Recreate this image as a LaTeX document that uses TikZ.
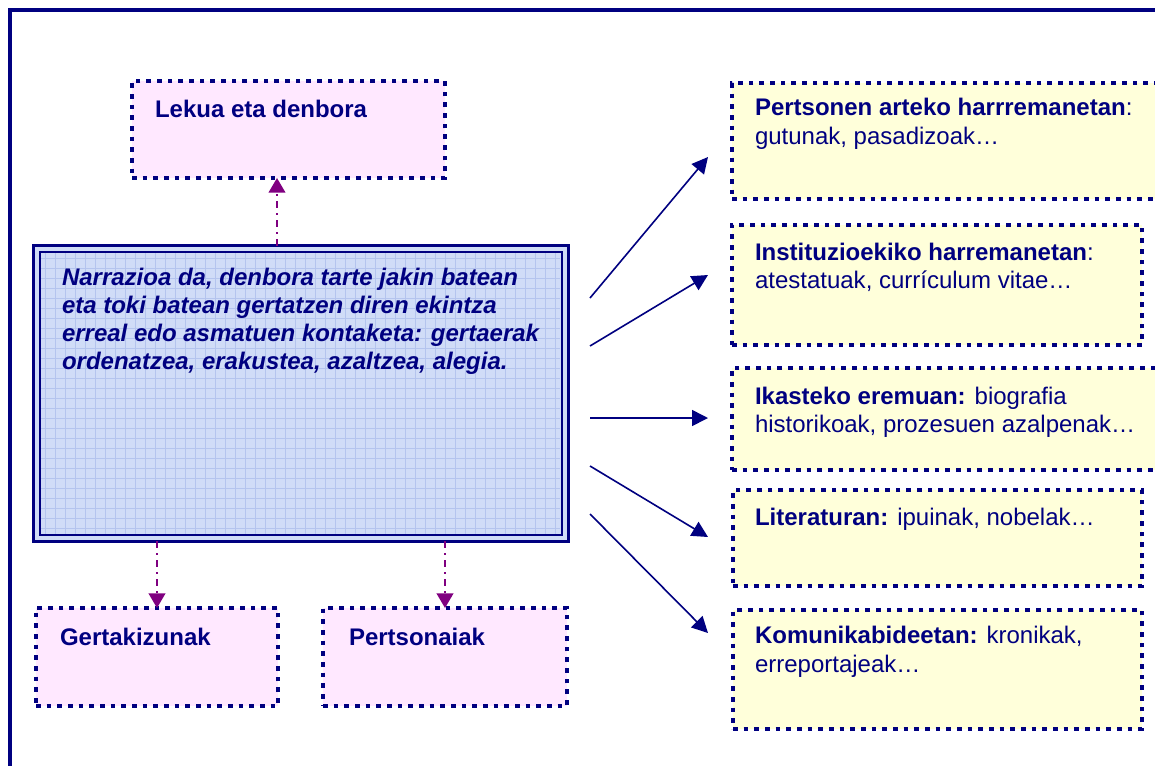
\documentclass[tikz,border=0pt]{standalone}
\usepackage{fontspec}
\setmainfont{Liberation Sans}
\usetikzlibrary{arrows.meta,calc}
\definecolor{navy}{RGB}{0,0,128}
\definecolor{purp}{RGB}{128,0,128}
\definecolor{pinkfill}{RGB}{255,232,255}
\definecolor{yelfill}{RGB}{255,255,218}
\definecolor{bluefill}{RGB}{208,220,247}
\definecolor{gridc}{RGB}{180,196,238}
\begin{document}
\begin{tikzpicture}[x=0.75pt,y=-0.75pt,
  every node/.style={outer sep=0pt, text=navy, font=\fontsize{18}{21.5}\selectfont},
  dotbox/.style={rectangle, draw=navy, line width=3.4pt, dash pattern=on 3.4pt off 4.6pt, anchor=north west, inner sep=0pt},
  pinkbox/.style={dotbox, fill=pinkfill},
  yelbox/.style={dotbox, fill=yelfill},
  txt/.style={anchor=base west, inner sep=0pt},
  mtxt/.style={txt, font=\fontsize{18}{21.5}\selectfont\bfseries\itshape},
  rarrow/.style={draw=navy, line width=1.2pt, -{Triangle[length=12pt,width=12pt]}},
  parrow/.style={draw=purp, line width=1.5pt, dash pattern=on 5.25pt off 3.75pt on 1.5pt off 3.75pt, -{Triangle[length=11pt,width=12.5pt]}},
]
\useasboundingbox (0,0) rectangle (1155,765);
\clip (0,0) rectangle (1155,765);
\fill[white] (0,0) rectangle (1155,765);
% outer frame
\draw[navy, line width=3pt] (10,10) rectangle (1200,800);

% main box
\node[rectangle, fill=bluefill, draw=navy, line width=2.25pt, anchor=north west, inner sep=0pt,
  minimum width=400.875pt, minimum height=221.625pt] (main) at (33.5,245.5) {};
\foreach \gx in {45,55,...,555} \draw[gridc, line width=0.35pt] (\gx,252) -- (\gx,534);
\foreach \gy in {258,268,...,528} \draw[gridc, line width=0.35pt] (40,\gy) -- (560,\gy);
\draw[navy, line width=1.5pt] ($(main.north west)+(6.5,6.5)$) rectangle ($(main.south east)+(-6.5,-6.5)$);
\node[mtxt] (m1) at (62,285) {Narrazioa da, denbora tarte jakin batean};
\node[mtxt] (m2) at (62,313) {eta toki batean gertatzen diren ekintza};
\node[mtxt] (m3) at (62,341) {erreal edo asmatuen kontaketa: gertaerak};
\node[mtxt] (m4) at (62,369) {ordenatzea, erakustea, azaltzea, alegia.};

% pink boxes
\node[pinkbox, minimum width=234.75pt, minimum height=72.75pt] (lek) at (132,81) {};
\node[txt] (lekt) at (155,117) {\bfseries Lekua eta denbora};
\node[pinkbox, minimum width=181.5pt, minimum height=73.5pt] (g) at (36,608) {};
\node[txt] (gt) at (60,645) {\bfseries Gertakizunak};
\node[pinkbox, minimum width=183pt, minimum height=73.5pt] (p) at (323,608) {};
\node[txt] (pt) at (349,645) {\bfseries Pertsonaiak};

% yellow boxes
\node[yelbox, minimum width=328.5pt, minimum height=87pt] (b1) at (732,83) {};
\node[txt] (b1a) at (755,115) {\textbf{Pertsonen arteko harrremanetan}:};
\node[txt] (b1b) at (755,144) {gutunak, pasadizoak…};
\node[yelbox, minimum width=307.5pt, minimum height=90pt] (b2) at (732,225) {};
\node[txt] (b2a) at (755,260) {\textbf{Instituzioekiko harremanetan}:};
\node[txt] (b2b) at (755,288) {atestatuak, currículum vitae…};
\node[yelbox, minimum width=328.5pt, minimum height=76.5pt] (b3) at (732,368) {};
\node[txt] (b3a) at (755,404) {\textbf{Ikasteko eremuan:} biografia};
\node[txt] (b3b) at (755,432) {historikoak, prozesuen azalpenak…};
\node[yelbox, minimum width=306.75pt, minimum height=72pt] (b4) at (733,490) {};
\node[txt] (b4a) at (755,525) {\textbf{Literaturan:} ipuinak, nobelak…};
\node[yelbox, minimum width=306.75pt, minimum height=89.25pt] (b5) at (733,610) {};
\node[txt] (b5a) at (755,643) {\textbf{Komunikabideetan:} kronikak,};
\node[txt] (b5b) at (755,672) {erreportajeak…};

% purple dash-dot arrows
\coordinate (ax) at (277,0);
\draw[parrow] (main.north -| ax) -- (lek.south -| ax);
\draw[parrow] (main.south -| g.north) -- (g.north);
\draw[parrow] (main.south -| p.north) -- (p.north);

% right arrows
\coordinate (s1) at (590,298); \coordinate (e1) at (708,157);
\coordinate (s2) at (590,346); \coordinate (e2) at (708,275);
\coordinate (s3) at (590,418); \coordinate (e3) at (708,418);
\coordinate (s4) at (590,466); \coordinate (e4) at (708,537);
\coordinate (s5) at (590,514); \coordinate (e5) at (708,633);
\draw[rarrow] (s1) -- (e1);
\draw[rarrow] (s2) -- (e2);
\draw[rarrow] (s3) -- (e3);
\draw[rarrow] (s4) -- (e4);
\draw[rarrow] (s5) -- (e5);
\end{tikzpicture}
\end{document}
